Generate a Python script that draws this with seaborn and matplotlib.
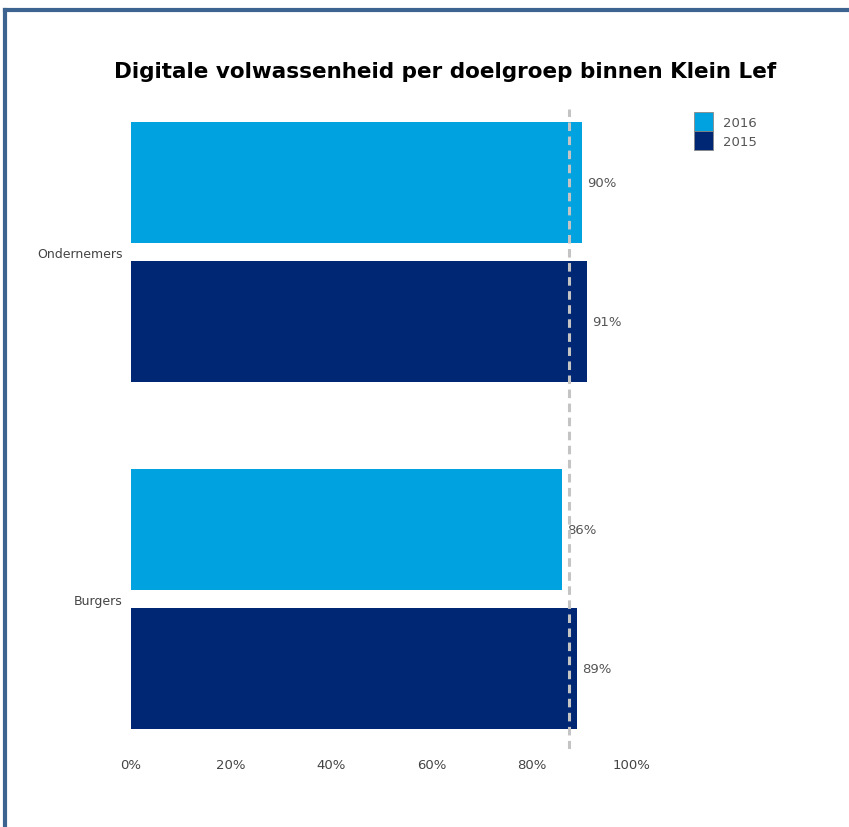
import matplotlib
matplotlib.use("Agg")
import matplotlib.pyplot as plt
import seaborn as sns
import pandas as pd
from matplotlib.lines import Line2D
from matplotlib.patches import Patch

categories = ["Ondernemers", "Burgers"]
series = ["2016", "2015"]
values_2016 = [90, 86]
values_2015 = [91, 89]
reference_line = 87.5
x_ticks = [0, 20, 40, 60, 80, 100]
x_tick_labels = ["0%", "20%", "40%", "60%", "80%", "100%"]
title = "Digitale volwassenheid per doelgroep binnen Klein Lef"
colors = {"2016": "#00A2E0", "2015": "#002773"}

df = pd.DataFrame({
    "doelgroep": categories * 2,
    "jaar": ["2016"] * len(categories) + ["2015"] * len(categories),
    "waarde": values_2016 + values_2015,
})

sns.set_style("white")
plt.rcParams["font.family"] = ["DejaVu Sans"]

fig = plt.figure(figsize=(8.49, 8.28), dpi=100)
ax = fig.add_axes([131/849, 1-750/828, (632-131)/849, (750-110)/828])

sns.barplot(data=df, y="doelgroep", x="waarde", hue="jaar", order=categories,
            hue_order=series, palette=colors, orient="h", ax=ax, width=0.8,
            gap=0.13, legend=False, saturation=1)

for p in ax.patches:
    p.set_edgecolor("none")

for cont in ax.containers:
    ax.bar_label(cont, labels=[f"{v:.0f}%" for v in cont.datavalues],
                 padding=4, color="#555555", fontsize=9.5)

ax.axvline(reference_line, color="#C4C4C4", lw=2.2, linestyle=(0, (2.8, 1.8)), zorder=5)

ax.set_xlim(0, 100)
ax.set_ylim(1.432, -0.412)
ax.set_xticks(x_ticks)
ax.set_xticklabels(x_tick_labels, color="#444444", fontsize=9.5)
ax.tick_params(axis="x", length=5, direction="inout", color="#CCCCCC", pad=4)
ax.tick_params(axis="y", length=0, pad=6, labelsize=9, labelcolor="#444444")
ax.set_xlabel("")
ax.set_ylabel("")
for s in ax.spines.values():
    s.set_visible(False)

fig.text(445/849, 1-72/828, title, ha="center", va="center",
         fontsize=15.5, fontweight="bold", color="black")

handles = [Patch(facecolor=colors[s], edgecolor="#888888", linewidth=0.6) for s in series]
fig.legend(handles, series, loc="upper left", bbox_to_anchor=(694/849, 1-113/828),
           frameon=False, handlelength=1.45, handleheight=1.85, labelspacing=0.0,
           handletextpad=0.75, borderpad=0, borderaxespad=0,
           prop={"size": 9.5}, labelcolor="#555555")

border = "#3D6491"
fig.add_artist(Line2D([5/849, 5/849], [0, 1-11/828], transform=fig.transFigure,
                      color=border, lw=3, solid_capstyle="projecting"))
fig.add_artist(Line2D([5/849, 1], [1-11/828, 1-11/828], transform=fig.transFigure,
                      color=border, lw=3, solid_capstyle="projecting"))

fig.savefig("out.png", dpi=100)
